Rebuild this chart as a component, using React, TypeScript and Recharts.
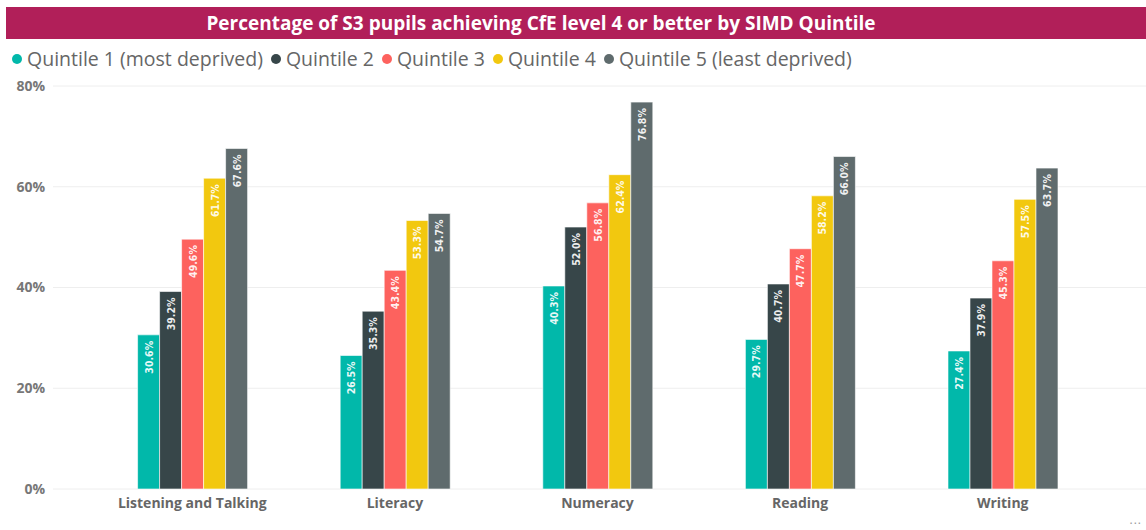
import { BarChart, Bar, XAxis, YAxis, CartesianGrid, LabelList } from 'recharts';

const subjects = ['Listening and Talking', 'Literacy', 'Numeracy', 'Reading', 'Writing'];

const quintile1 = [30.6, 26.5, 40.3, 29.7, 27.4];
const quintile2 = [39.2, 35.3, 52.0, 40.7, 37.9];
const quintile3 = [49.6, 43.4, 56.8, 47.7, 45.3];
const quintile4 = [61.7, 53.3, 62.4, 58.2, 57.5];
const quintile5 = [67.6, 54.7, 76.8, 66.0, 63.7];

const yTicks = [0, 20, 40, 60, 80];

const series = [
  { key: 'q1', name: 'Quintile 1 (most deprived)', values: quintile1, color: '#01B8AA' },
  { key: 'q2', name: 'Quintile 2', values: quintile2, color: '#374649' },
  { key: 'q3', name: 'Quintile 3', values: quintile3, color: '#FD625E' },
  { key: 'q4', name: 'Quintile 4', values: quintile4, color: '#F2C80F' },
  { key: 'q5', name: 'Quintile 5 (least deprived)', values: quintile5, color: '#5F6B6D' },
];

const rows = subjects.map((s, i) => {
  const row: any = { subject: s };
  series.forEach((sr) => (row[sr.key] = sr.values[i]));
  return row;
});

const labelFont = '"DejaVu Sans Condensed", "DejaVu Sans", sans-serif';
const uiFont = '"Open Sans", "Noto Sans", sans-serif';

// rotated value label sitting just under the bar top
const ValueLabel = (props: any) => {
  const { x, y, width, value } = props;
  const cx = x + width / 2;
  const ty = y + 6;
  return (
    <text
      x={cx}
      y={ty}
      transform={`rotate(-90, ${cx}, ${ty})`}
      textAnchor="end"
      dominantBaseline="central"
      fill="#ffffff"
      fillOpacity={0.92}
      fontFamily={labelFont}
      fontWeight="bold"
      fontSize={10.5}
    >
      {Number(value).toFixed(1)}%
    </text>
  );
};

export default function App() {
  return (
    <div style={{ position: 'absolute', left: 0, top: 0, width: 1146, height: 530, background: '#fff', overflow: 'hidden' }}>
      <div
        style={{
          position: 'absolute',
          left: 6,
          top: 7,
          width: 1140,
          height: 32,
          background: '#B11F59',
        }}
      />
      <div
        style={{
          position: 'absolute',
          left: 0,
          top: 7,
          width: 1082,
          height: 32,
          lineHeight: '32px',
          textAlign: 'center',
          color: '#fff',
          fontFamily: uiFont,
          fontWeight: 700,
          fontSize: 19,
        }}
      >
        Percentage of S3 pupils achieving CfE level 4 or better by SIMD Quintile
      </div>
      <div
        style={{
          position: 'absolute',
          left: 12,
          top: 45,
          display: 'flex',
          alignItems: 'center',
          fontFamily: uiFont,
          fontSize: 19.5,
          color: '#666666',
          whiteSpace: 'nowrap',
        }}
      >
        {series.map((s) => (
          <div key={s.key} style={{ display: 'flex', alignItems: 'center', marginRight: 8 }}>
            <span style={{ width: 10, height: 10, borderRadius: '50%', background: s.color, marginRight: 5 }} />
            <span>{s.name}</span>
          </div>
        ))}
      </div>

      <div style={{ position: 'absolute', left: 0, top: 0 }}>
        <BarChart
          width={1146}
          height={530}
          data={rows}
          margin={{ top: 86, right: 0, bottom: 11, left: 0 }}
          barCategoryGap="23%"
          barGap={0}
        >
          <CartesianGrid vertical={false} stroke="#eeeeee" />
          <XAxis
            dataKey="subject"
            height={30}
            axisLine={false}
            tickLine={false}
            tickSize={0}
            tickMargin={9}
            padding={{ left: 38, right: 42 }}
            tick={{ fill: '#666666', fontSize: 14, fontWeight: 700, fontFamily: uiFont }}
          />
          <YAxis
            width={53}
            domain={[0, 80]}
            ticks={yTicks}
            axisLine={false}
            tickLine={false}
            tickSize={0}
            tickMargin={8}
            tickFormatter={(v: number) => `${v}%`}
            tick={{ fill: '#777777', fontSize: 14, fontWeight: 700, fontFamily: uiFont }}
          />
          {series.map((s) => (
            <Bar key={s.key} dataKey={s.key} name={s.name} fill={s.color} stroke="#ffffff" strokeWidth={0.6} isAnimationActive={false}>
              <LabelList dataKey={s.key} content={ValueLabel} />
            </Bar>
          ))}
        </BarChart>
      </div>
      <div style={{ position: 'absolute', right: 4, bottom: 2, color: '#999', fontSize: 12, fontFamily: uiFont, letterSpacing: 1 }}>...</div>
    </div>
  );
}
